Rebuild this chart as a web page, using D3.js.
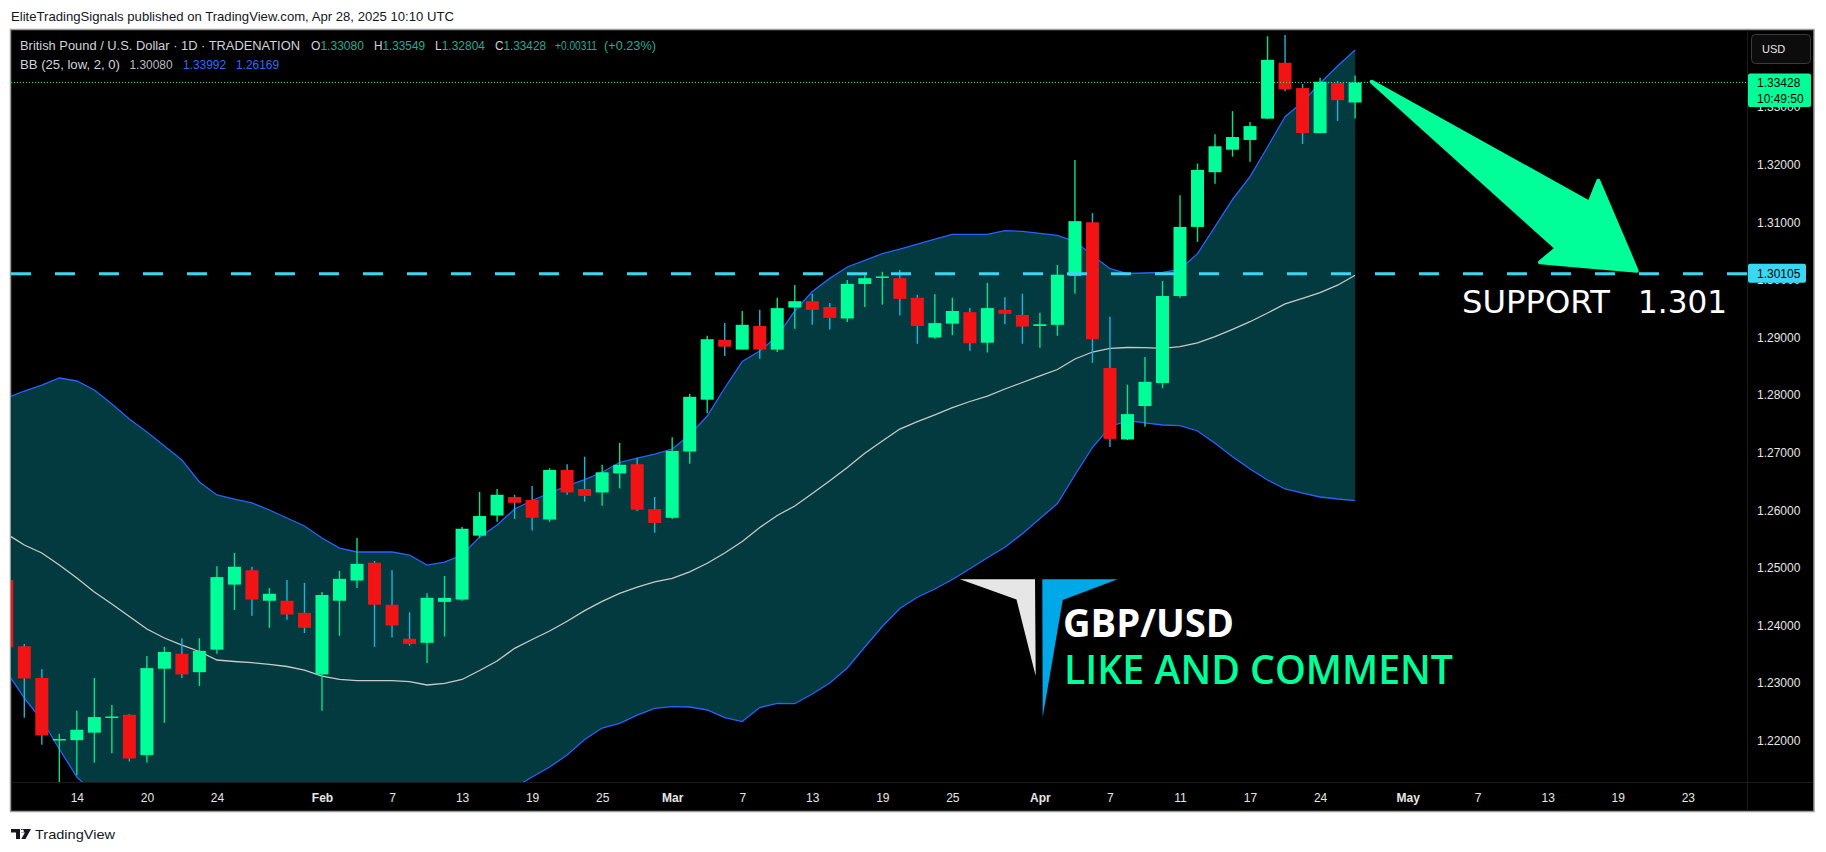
<!DOCTYPE html>
<html><head><meta charset="utf-8">
<script src="https://cdn.jsdelivr.net/npm/d3@7"></script>
<style>html,body{margin:0;padding:0;background:#fff;}svg{display:block;}</style>
</head><body><svg id="c" width="1826" height="852"></svg>
<script>
// ---- data ----
const dates = ["2025-01-08","2025-01-09","2025-01-10","2025-01-13","2025-01-14","2025-01-15","2025-01-16","2025-01-17","2025-01-20","2025-01-21","2025-01-22","2025-01-23","2025-01-24","2025-01-27","2025-01-28","2025-01-29","2025-01-30","2025-01-31",
"2025-02-03","2025-02-04","2025-02-05","2025-02-06","2025-02-07","2025-02-10","2025-02-11","2025-02-12","2025-02-13","2025-02-14","2025-02-17","2025-02-18","2025-02-19","2025-02-20","2025-02-21","2025-02-24","2025-02-25","2025-02-26","2025-02-27","2025-02-28",
"2025-03-03","2025-03-04","2025-03-05","2025-03-06","2025-03-07","2025-03-10","2025-03-11","2025-03-12","2025-03-13","2025-03-14","2025-03-17","2025-03-18","2025-03-19","2025-03-20","2025-03-21","2025-03-24","2025-03-25","2025-03-26","2025-03-27","2025-03-28","2025-03-31",
"2025-04-01","2025-04-02","2025-04-03","2025-04-04","2025-04-07","2025-04-08","2025-04-09","2025-04-10","2025-04-11","2025-04-14","2025-04-15","2025-04-16","2025-04-17","2025-04-21","2025-04-22","2025-04-23","2025-04-24","2025-04-25","2025-04-28"];
const futureDates = ["2025-04-29","2025-04-30","2025-05-01","2025-05-02","2025-05-05","2025-05-06","2025-05-07","2025-05-08","2025-05-09","2025-05-12","2025-05-13","2025-05-14","2025-05-15","2025-05-16","2025-05-19","2025-05-20","2025-05-21","2025-05-22","2025-05-23"];

const openP  = [1.2479,1.2364,1.2309,1.2201,1.2201,1.2214,1.2240,1.2245,1.2175,1.2325,1.2351,1.2319,1.2358,1.2471,1.2496,1.2443,1.2443,1.2422,1.2315,1.2443,1.2478,1.2509,1.2436,1.2377,1.2370,1.2441,1.2445,1.2556,1.2591,1.2623,1.2618,1.2584,1.2670,1.2637,1.2631,1.2664,1.2680,1.2602,1.2587,1.2702,1.2792,1.2896,1.2879,1.2920,1.2879,1.2952,1.2963,1.2953,1.2933,1.2993,1.3004,1.3003,1.2969,1.2900,1.2924,1.2944,1.2891,1.2948,1.2939,1.2920,1.2922,1.3007,1.3100,1.2847,1.2723,1.2781,1.2821,1.2972,1.3092,1.3187,1.3226,1.3243,1.3280,1.3377,1.3333,1.3255,1.3342,1.33080];
const highP  = [1.2490,1.2368,1.2324,1.2212,1.2252,1.2309,1.2262,1.2246,1.2347,1.2363,1.2378,1.2378,1.2503,1.2526,1.2502,1.2465,1.2479,1.2474,1.2458,1.2495,1.2552,1.2512,1.2496,1.2423,1.2456,1.2486,1.2571,1.2632,1.2637,1.2627,1.2642,1.2673,1.2680,1.2693,1.2679,1.2717,1.2691,1.2623,1.2727,1.2802,1.2903,1.2925,1.2946,1.2948,1.2969,1.2991,1.2976,1.2960,1.3000,1.3008,1.3014,1.3017,1.2974,1.2975,1.2969,1.2951,1.2995,1.2970,1.2976,1.2943,1.3026,1.3208,1.3116,1.2936,1.2818,1.2866,1.2998,1.3147,1.3202,1.3253,1.3293,1.3274,1.3423,1.3425,1.3340,1.3351,1.3345,1.33549];
const lowP   = [1.2340,1.2240,1.2193,1.2100,1.2140,1.2162,1.2178,1.2164,1.2162,1.2231,1.2309,1.2295,1.2351,1.2427,1.2417,1.2396,1.2410,1.2387,1.2252,1.2382,1.2465,1.2363,1.2379,1.2365,1.2335,1.2381,1.2443,1.2552,1.2580,1.2585,1.2565,1.2580,1.2627,1.2615,1.2608,1.2638,1.2599,1.2561,1.2585,1.2681,1.2769,1.2868,1.2879,1.2863,1.2875,1.2915,1.2922,1.2914,1.2927,1.2953,1.2957,1.2938,1.2889,1.2898,1.2904,1.2877,1.2874,1.2923,1.2889,1.2882,1.2903,1.2976,1.2856,1.2710,1.2722,1.2745,1.2812,1.2969,1.3066,1.3167,1.3214,1.3205,1.3279,1.3328,1.3236,1.3254,1.3276,1.32804];
const closeP = [1.2362,1.2308,1.2209,1.2203,1.2219,1.2241,1.2242,1.2169,1.2326,1.2354,1.2315,1.2356,1.2484,1.2502,1.2445,1.2455,1.2419,1.2396,1.2453,1.2481,1.2507,1.2436,1.2400,1.2368,1.2448,1.2448,1.2568,1.2590,1.2627,1.2613,1.2587,1.2670,1.2631,1.2625,1.2666,1.2679,1.2601,1.2578,1.2703,1.2797,1.2897,1.2884,1.2922,1.2879,1.2951,1.2963,1.2948,1.2934,1.2993,1.3003,1.3006,1.2967,1.2920,1.2925,1.2946,1.2890,1.2951,1.2941,1.2919,1.2923,1.3009,1.3102,1.2897,1.2724,1.2767,1.2823,1.2972,1.3092,1.3191,1.3232,1.3248,1.3267,1.3382,1.3331,1.3255,1.3344,1.3312,1.33428];

const bbUpper  = [1.27950,1.28071,1.28175,1.28297,1.28245,1.28089,1.27845,1.27585,1.27359,1.27116,1.26873,1.26491,1.26266,1.26196,1.26127,1.26005,1.25866,1.25727,1.25519,1.25345,1.25276,1.25276,1.25276,1.25224,1.25050,1.25102,1.25224,1.25536,1.25745,1.26023,1.26170,1.26300,1.26425,1.26533,1.26660,1.26830,1.26905,1.26977,1.27064,1.27307,1.27637,1.28123,1.28583,1.28766,1.29026,1.29460,1.29799,1.30026,1.30224,1.30339,1.30455,1.30536,1.30623,1.30710,1.30792,1.30792,1.30792,1.30854,1.30844,1.30809,1.30773,1.30665,1.30427,1.30194,1.30111,1.30120,1.30132,1.30184,1.30455,1.30924,1.31396,1.31792,1.32307,1.32833,1.33089,1.33413,1.33714,1.33992];
const bbMiddle = [1.25589,1.25398,1.25259,1.25050,1.24825,1.24582,1.24373,1.24156,1.23939,1.23783,1.23661,1.23549,1.23401,1.23375,1.23354,1.23326,1.23288,1.23227,1.23123,1.23066,1.23042,1.23042,1.23042,1.23024,1.22967,1.22997,1.23063,1.23219,1.23384,1.23604,1.23757,1.23905,1.24073,1.24259,1.24420,1.24557,1.24668,1.24759,1.24819,1.24932,1.25080,1.25259,1.25458,1.25701,1.25910,1.26075,1.26292,1.26512,1.26743,1.26990,1.27203,1.27411,1.27538,1.27655,1.27781,1.27889,1.27984,1.28106,1.28219,1.28333,1.28444,1.28627,1.28748,1.28811,1.28826,1.28825,1.28811,1.28840,1.28905,1.29014,1.29141,1.29274,1.29425,1.29582,1.29679,1.29778,1.29908,1.30080];
const bbLower  = [1.23193,1.22741,1.22359,1.21856,1.21370,1.21075,1.20901,1.20727,1.20519,1.20450,1.20450,1.20606,1.20536,1.20554,1.20589,1.20648,1.20710,1.20727,1.20727,1.20786,1.20807,1.20807,1.20807,1.20825,1.20884,1.20891,1.20901,1.20901,1.21023,1.21186,1.21370,1.21543,1.21752,1.22021,1.22220,1.22302,1.22443,1.22561,1.22590,1.22585,1.22533,1.22399,1.22333,1.22576,1.22648,1.22642,1.22811,1.23002,1.23262,1.23627,1.23983,1.24295,1.24490,1.24634,1.24799,1.24986,1.25177,1.25358,1.25594,1.25858,1.26116,1.26613,1.27090,1.27446,1.27559,1.27516,1.27481,1.27469,1.27377,1.27163,1.26931,1.26717,1.26526,1.26370,1.26300,1.26231,1.26196,1.26169];

const priceTicks = [1.22,1.23,1.24,1.25,1.26,1.27,1.28,1.29,1.30,1.31,1.32,1.33];
const timeTickDates  = ["2025-01-14","2025-01-20","2025-01-24","2025-02-03","2025-02-07","2025-02-13","2025-02-19","2025-02-25","2025-03-03","2025-03-07","2025-03-13","2025-03-19","2025-03-25","2025-04-01","2025-04-07","2025-04-11","2025-04-17","2025-04-24","2025-05-01","2025-05-07","2025-05-13","2025-05-19","2025-05-23"];
const timeTickLabels = ["14","20","24","Feb","7","13","19","25","Mar","7","13","19","25","Apr","7","11","17","24","May","7","13","19","23"];
const supportLevel = 1.30105;
const lastClock = "10:49:50";
// arrow annotation anchored in (bar index, price)
const arrowIdx   = [77.95, 90.38, 90.89, 93.08, 87.56, 88.52];
const arrowPrice = [1.33441, 1.31340, 1.31722, 1.30160, 1.30306, 1.30549];

// ---- layout ----
const svg = d3.select("#c");
const P = {left: 11, right: 1747, top: 30, bottom: 782};
const allDates = dates.concat(futureDates);
const x = d3.scaleLinear().domain([0, 96]).range([6.8, 1687.8]);
const y = d3.scaleLinear().domain([1.22, 1.33]).range([740.7, 107.1]);
const GREEN = "#00ff99", RED = "#f21414", CYAN = "#3ad7f5";

svg.append("rect").attr("width",1826).attr("height",852).attr("fill","#fff");
svg.append("text").attr("x",11).attr("y",21).attr("font-family","Liberation Sans, Arial, sans-serif")
  .attr("font-size",13).attr("fill","#131722").attr("textLength",443).attr("lengthAdjust","spacingAndGlyphs")
  .text("EliteTradingSignals published on TradingView.com, Apr 28, 2025 10:10 UTC");

// panel
svg.append("rect").attr("x",10.5).attr("y",29.5).attr("width",1803.5).attr("height",782)
  .attr("fill","#000").attr("stroke","#9a9a9a").attr("stroke-width",1.5);
svg.append("line").attr("x1",P.right+0.5).attr("x2",P.right+0.5).attr("y1",30).attr("y2",811).attr("stroke","#1b1b1b");
svg.append("line").attr("x1",11).attr("x2",1813).attr("y1",P.bottom+0.5).attr("y2",P.bottom+0.5).attr("stroke","#1b1b1b");

svg.append("clipPath").attr("id","plot").append("rect")
  .attr("x",P.left).attr("y",P.top).attr("width",P.right-P.left).attr("height",P.bottom-P.top);
const g = svg.append("g").attr("clip-path","url(#plot)");

const idx = d3.range(dates.length);
// Bollinger fill + lines
g.append("path").datum(idx).attr("fill","#023a40")
  .attr("d", d3.area().x(i=>x(i)).y0(i=>y(bbLower[i])).y1(i=>y(bbUpper[i])));
const line = arr => d3.line().x(i=>x(i)).y(i=>y(arr[i]));
g.append("path").datum(idx).attr("fill","none").attr("stroke","#2962ff").attr("stroke-width",1.3).attr("d",line(bbUpper));
g.append("path").datum(idx).attr("fill","none").attr("stroke","#2962ff").attr("stroke-width",1.3).attr("d",line(bbLower));
g.append("path").datum(idx).attr("fill","none").attr("stroke","#c9c9c9").attr("stroke-width",1.3).attr("d",line(bbMiddle));

// candles
const bw = 13;
const cg = g.append("g");
idx.forEach(i=>{
  const up = closeP[i] >= openP[i];
  const col = up ? GREEN : RED;
  cg.append("line").attr("x1",x(i)).attr("x2",x(i)).attr("y1",y(highP[i])).attr("y2",y(lowP[i]))
    .attr("stroke", up ? "#00e48c" : "#1fb4d8").attr("stroke-width",1.4);
  const yt = y(Math.max(openP[i],closeP[i])), yb = y(Math.min(openP[i],closeP[i]));
  cg.append("rect").attr("x",x(i)-bw/2).attr("y",yt).attr("width",bw).attr("height",Math.max(1.5,yb-yt)).attr("fill",col);
});

// last price dotted line
g.append("line").attr("x1",P.left).attr("x2",P.right).attr("y1",y(closeP[closeP.length-1])).attr("y2",y(closeP[closeP.length-1]))
  .attr("stroke",GREEN).attr("stroke-width",1).attr("stroke-dasharray","1,2");
// support dashed line
g.append("line").attr("x1",P.left).attr("x2",P.right).attr("y1",y(supportLevel)).attr("y2",y(supportLevel))
  .attr("stroke",CYAN).attr("stroke-width",3).attr("stroke-dasharray","20,24");

// arrow
g.append("path").datum(d3.range(arrowIdx.length))
  .attr("d", d3.line().x(k=>x(arrowIdx[k])).y(k=>y(arrowPrice[k])).curve(d3.curveLinearClosed))
  .attr("fill",GREEN).attr("stroke",GREEN).attr("stroke-width",4).attr("stroke-linejoin","round");

// SUPPORT text
g.append("text").attr("x",1462).attr("y",313).attr("font-family","DejaVu Sans, sans-serif").attr("font-size",32)
  .attr("fill","#fff").attr("textLength",148).attr("lengthAdjust","spacingAndGlyphs").text("SUPPORT");
g.append("text").attr("x",1638).attr("y",313).attr("font-family","DejaVu Sans, sans-serif").attr("font-size",32)
  .attr("fill","#fff").attr("textLength",89).attr("lengthAdjust","spacingAndGlyphs").text("1.301");

// logo
g.append("polygon").attr("points","960,579.3 1035,579.3 1035.7,676 1016.5,599.5").attr("fill","#e6e6e6");
g.append("polygon").attr("points","1042.3,579.3 1117.7,579.3 1062.7,600 1042.7,717.3").attr("fill","#00a8e8");
g.append("text").attr("x",1063).attr("y",636.5).attr("font-family","Open Sans, Lato, sans-serif").attr("font-weight",700)
  .attr("font-size",40).attr("fill","#fff").attr("textLength",171).attr("lengthAdjust","spacingAndGlyphs").text("GBP/USD");
g.append("text").attr("x",1064).attr("y",684.3).attr("font-family","Open Sans, Lato, sans-serif").attr("font-weight",600)
  .attr("font-size",40).attr("fill",GREEN).attr("textLength",389).attr("lengthAdjust","spacingAndGlyphs").text("LIKE AND COMMENT");

// price axis
const ya = svg.append("g").attr("transform",`translate(${P.right},0)`)
  .call(d3.axisRight(y).tickValues(priceTicks).tickSize(0).tickPadding(10).tickFormat(d3.format(".5f")));
ya.select(".domain").remove();
ya.selectAll("text").attr("fill","#e6e6e6").attr("font-size",12).attr("font-family","Liberation Sans, Arial, sans-serif");

// time axis
const tickIdx = timeTickDates.map(d=>allDates.indexOf(d));
const xa = svg.append("g").attr("transform",`translate(0,${P.bottom})`)
  .call(d3.axisBottom(x).tickValues(tickIdx).tickSize(0).tickPadding(11).tickFormat((d,k)=>timeTickLabels[k]));
xa.select(".domain").remove();
xa.selectAll("text").attr("fill","#e6e6e6").attr("font-size",12).attr("font-family","Liberation Sans, Arial, sans-serif")
  .attr("font-weight",(d,k)=>isNaN(+timeTickLabels[k]) ? 700 : 400);

// price labels on axis
function axisTag(yc, h, fill, lines){
  svg.append("rect").attr("x",1748).attr("y",yc).attr("width",lines.w).attr("height",h).attr("rx",2).attr("fill",fill);
  lines.t.forEach((t,k)=>svg.append("text").attr("x",1757).attr("y",yc+14+k*15.5).attr("font-size",12)
    .attr("font-family","Liberation Sans, Arial, sans-serif").attr("fill","#000").text(t));
}
const lastY = y(closeP[closeP.length-1]);
axisTag(lastY-9, 33.5, GREEN, {w:63, t:[d3.format(".5f")(closeP[closeP.length-1]), lastClock]});
axisTag(y(supportLevel)-10, 19, CYAN, {w:58, t:[d3.format(".5f")(supportLevel)]});

// USD button
svg.append("rect").attr("x",1751.5).attr("y",34.5).attr("width",59).attr("height",29).attr("rx",4)
  .attr("fill","#0c0c0c").attr("stroke","#3a3a3a");
svg.append("text").attr("x",1762).attr("y",53).attr("font-size",11).attr("fill","#e6e6e6")
  .attr("font-family","Liberation Sans, Arial, sans-serif").text("USD");

// legend
const F = "Liberation Sans, Arial, sans-serif", LBL="#d1d4dc", VAL="#22ab94";
function legend(xp, yp, parts, len){
  const t = svg.append("text").attr("x",xp).attr("y",yp).attr("font-family",F).attr("font-size",12.5);
  if(len) t.attr("textLength",len).attr("lengthAdjust","spacingAndGlyphs");
  parts.forEach(p=>t.append("tspan").attr("fill",p[1]).text(p[0]));
}
const last = closeP.length-1;
const f5 = d3.format(".5f");
legend(20,50,[["British Pound / U.S. Dollar · 1D · TRADENATION",LBL]],280);
legend(311,50,[["O",LBL],[f5(openP[last]),VAL]],53);
legend(374,50,[["H",LBL],[f5(highP[last]),VAL]],51);
legend(435,50,[["L",LBL],[f5(lowP[last]),VAL]],50);
legend(495,50,[["C",LBL],[f5(closeP[last]),VAL]],51);
legend(555,50,[["+0.00311",VAL]],42);
legend(604,50,[["(+0.23%)",VAL]],52);
legend(20,69,[["BB (25, low, 2, 0)",LBL]],100);
legend(129.5,69,[[f5(bbMiddle[last]),"#b8bcc6"]],43);
legend(183,69,[[f5(bbUpper[last]),"#2f6bff"]],43);
legend(236,69,[[f5(bbLower[last]),"#2f6bff"]],43);

// TradingView footer
svg.append("path").attr("d","M11,829 h9 v10 h-4 v-6.5 h-5 z").attr("fill","#131722");
svg.append("path").attr("d","M21,829 h10 l-5.5,10 h-4.2 l3.6,-6.5 h-3.9 z").attr("fill","#131722");
svg.append("circle").attr("cx",22.3).attr("cy",831).attr("r",1.6).attr("fill","#fff");
svg.append("text").attr("x",35).attr("y",839).attr("font-family",F).attr("font-size",13).attr("fill","#131722")
  .attr("textLength",80).attr("lengthAdjust","spacingAndGlyphs").text("TradingView");
</script></body></html>
